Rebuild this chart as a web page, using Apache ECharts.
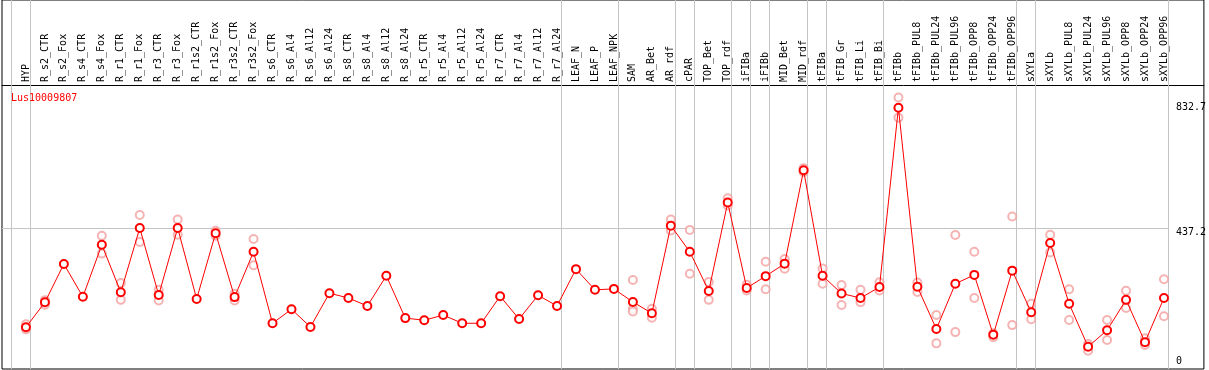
<!DOCTYPE html>
<html>
<head>
<meta charset="utf-8">
<script src="https://cdn.jsdelivr.net/npm/echarts@6/dist/echarts.min.js"></script>
<style>
html,body{margin:0;padding:0;background:#fff;}
#c{width:1209px;height:370px;}
</style>
</head>
<body>
<div id="c"></div>
<script>
const categories = ["HYP","R_s2_CTR","R_s2_Fox","R_s4_CTR","R_s4_Fox","R_r1_CTR","R_r1_Fox","R_r3_CTR","R_r3_Fox","R_r1s2_CTR","R_r1s2_Fox","R_r3s2_CTR","R_r3s2_Fox","R_s6_CTR","R_s6_Al4","R_s6_Al12","R_s6_Al24","R_s8_CTR","R_s8_Al4","R_s8_Al12","R_s8_Al24","R_r5_CTR","R_r5_Al4","R_r5_Al12","R_r5_Al24","R_r7_CTR","R_r7_Al4","R_r7_Al12","R_r7_Al24","LEAF_N","LEAF_P","LEAF_NPK","SAM","AR_Bet","AR_rdf","cPAR","TOP_Bet","TOP_rdf","iFIBa","iFIBb","MID_Bet","MID_rdf","tFIBa","tFIB_Gr","tFIB_Li","tFIB_Bi","tFIBb","tFIBb_PUL8","tFIBb_PUL24","tFIBb_PUL96","tFIBb_OPP8","tFIBb_OPP24","tFIBb_OPP96","sXYLa","sXYLb","sXYLb_PUL8","sXYLb_PUL24","sXYLb_PUL96","sXYLb_OPP8","sXYLb_OPP24","sXYLb_OPP96"];

const meanValues = [111,193,319,211,382,226,437,217,437,204,420,210,359,124,170,112,223,207,181,280,141,134,151,124,124,213,138,216,181,302,234,237,194,157,445,359,230,521,240,279,320,627,280,222,207,243,832.7,244,105,254,283,86,297,160,388,188,47,101,201,62,207];

const replicates = [[121,104],[200,185],[],[],[412,353],[256,201],[480,391],[234,199],[465,415],[],[428,412],[221,199],[401,315],[],[],[],[],[],[],[],[],[],[],[],[],[],[],[],[],[],[],[],[266,172,163],[172,142],[465,429],[431,287],[260,201],[535,511],[251,232],[326,236],[335,303],[634,621],[304,254],[250,184],[234,193],[259,232],[866,800],[258,227],[151,58],[414,95],[359,207],[91,78],[475,118],[188,137],[415,357],[236,135],[56,34],[135,69],[231,174],[75,53],[269,147]];

const groupEnds = [0,1,29,32,35,36,38,39,40,42,43,46,53,54,61];
const yTickLabels = [0, 437.2, 832.7];
const refLineValue = 437.2;
const geneName = "Lus10009807";

const FONT = "DejaVu Sans Mono";
const xMin = -0.263, xMax = 63.105, sepOff = 0.21;

const mainData = meanValues.map((v, i) => [i + 1, v]);
const repData = [];
replicates.forEach((arr, i) => arr.forEach(v => repData.push([i + 1, v])));

const chart = echarts.init(document.getElementById('c'), null, {renderer: 'canvas'});
chart.setOption({
  animation: false,
  backgroundColor: '#fff',
  title: {
    text: geneName, left: 6, top: 88,
    textStyle: {color: '#ff0000', fontFamily: FONT, fontSize: 10, fontWeight: 'normal'}
  },
  grid: {left: 2, right: 3, top: 0, bottom: 1, show: true, borderColor: '#000', borderWidth: 1, backgroundColor: 'transparent'},
  xAxis: {
    type: 'value', position: 'top', offset: -85, min: xMin, max: xMax,
    axisLine: {show: true, onZero: false, lineStyle: {color: '#000', width: 1}},
    axisTick: {show: false},
    splitLine: {show: false},
    axisLabel: {
      customValues: categories.map((c, i) => i + 1),
      rotate: -90, margin: 3, color: '#000', fontFamily: FONT, fontSize: 10,
      formatter: v => categories[Math.round(v) - 1] || ''
    }
  },
  yAxis: {
    type: 'value', position: 'right', min: -26.3, max: 1186.7,
    axisLine: {show: false}, axisTick: {show: false}, splitLine: {show: false},
    axisLabel: {
      customValues: yTickLabels, inside: true, align: 'left', margin: 28,
      color: '#000', fontFamily: FONT, fontSize: 10,
      formatter: v => {
        const s = String(v);
        return Math.abs(v - refLineValue) < 1e-6 ? '{d|' + s + '}' : s;
      },
      rich: {d: {padding: [9, 0, 0, 0], fontFamily: FONT, fontSize: 10, color: '#000'}}
    }
  },
  series: [
    {
      type: 'scatter', data: repData, z: 2,
      symbol: 'emptyCircle', symbolSize: 8,
      itemStyle: {color: '#f2a0a0', borderColor: '#f2a0a0', borderWidth: 1.3},
      silent: true,
      markLine: {
        silent: true, symbol: 'none', z: 1, animation: false,
        label: {show: false},
        lineStyle: {color: '#c4c4c4', width: 1, type: 'solid'},
        data: groupEnds.map(g => ({xAxis: g + sepOff})).concat([[
          {coord: [xMin, refLineValue]}, {coord: [61 + sepOff, refLineValue]}
        ]])
      }
    },
    {
      type: 'line', data: mainData, z: 3,
      symbol: 'emptyCircle', symbolSize: 8, showAllSymbol: true,
      lineStyle: {color: '#ff0000', width: 1},
      itemStyle: {color: '#ff0000', borderColor: '#ff0000', borderWidth: 1.6},
      silent: true
    }
  ]
});
</script>
</body>
</html>
